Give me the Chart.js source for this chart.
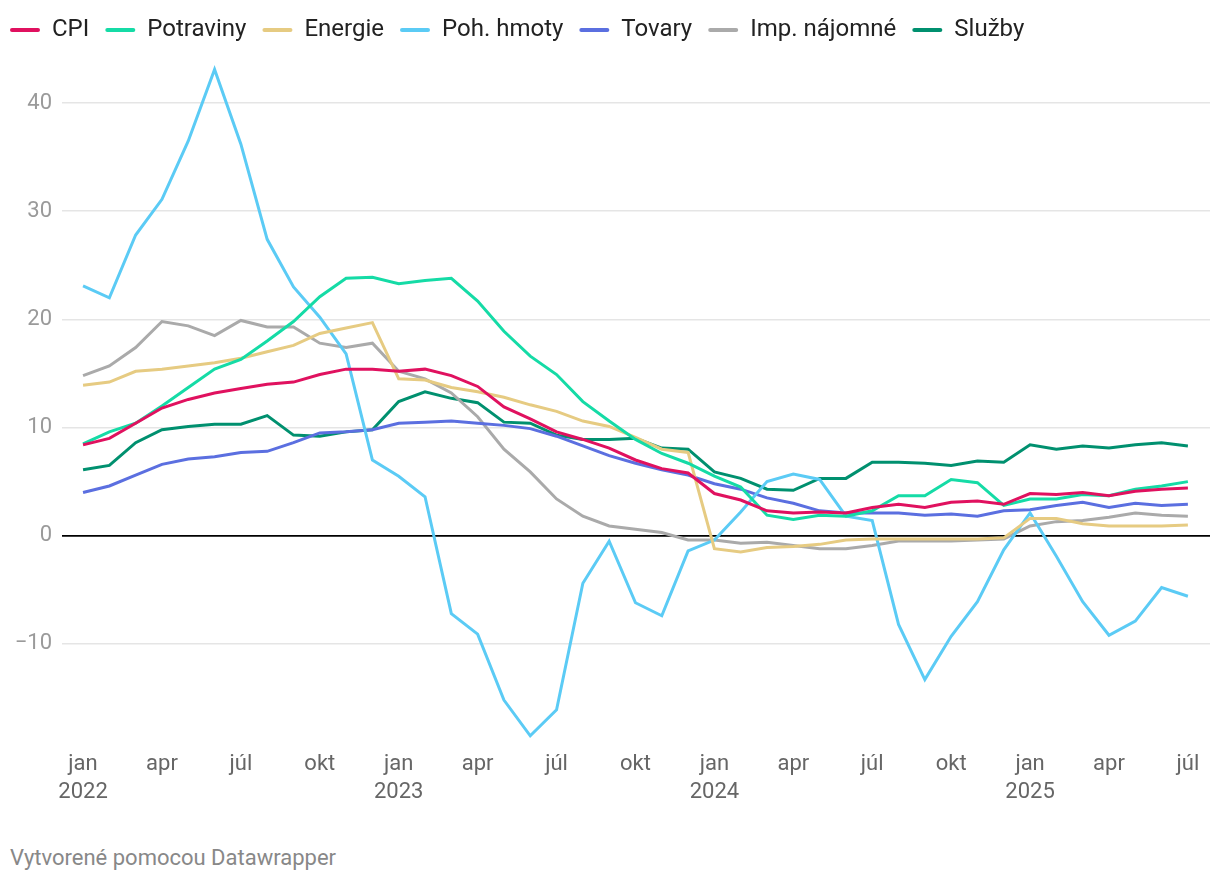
<!DOCTYPE html>
<html>
<head>
<meta charset="utf-8">
<script src="https://cdn.jsdelivr.net/npm/chart.js@4"></script>
<style>
    html, body { margin: 0; padding: 0; background: #fff; }
    #wrap { position: relative; width: 1220px; height: 882px; overflow: hidden; }
    #box { position: absolute; left: -6px; top: 0; width: 1226px; height: 815px; }
    #credit { position: absolute; left: 10px; top: 845px; font: 22px Roboto, sans-serif; color: #888; }
</style>
</head>
<body>
<div id="wrap">
    <div id="box"><canvas id="cpi-chart"></canvas></div>
    <div id="credit">Vytvorené pomocou Datawrapper</div>
</div>
<script>
const months = [
    '2022-01', '2022-02', '2022-03', '2022-04', '2022-05', '2022-06', '2022-07', '2022-08', '2022-09', '2022-10', '2022-11', '2022-12',
    '2023-01', '2023-02', '2023-03', '2023-04', '2023-05', '2023-06', '2023-07', '2023-08', '2023-09', '2023-10', '2023-11', '2023-12',
    '2024-01', '2024-02', '2024-03', '2024-04', '2024-05', '2024-06', '2024-07', '2024-08', '2024-09', '2024-10', '2024-11', '2024-12',
    '2025-01', '2025-02', '2025-03', '2025-04', '2025-05', '2025-06', '2025-07'
];

const cpi = [8.4, 9.0, 10.4, 11.8, 12.6, 13.2, 13.6, 14.0, 14.2, 14.9, 15.4, 15.4, 15.2, 15.4, 14.8, 13.8, 11.9, 10.8, 9.6, 8.9, 8.1, 7.0, 6.2, 5.8,
    3.9, 3.3, 2.3, 2.1, 2.2, 2.1, 2.6, 2.9, 2.6, 3.1, 3.2, 2.9, 3.9, 3.8, 4.0, 3.7, 4.1, 4.3, 4.4];
const potraviny = [8.5, 9.6, 10.4, 12.0, 13.7, 15.4, 16.3, 18.0, 19.8, 22.1, 23.8, 23.9, 23.3, 23.6, 23.8, 21.7, 18.9, 16.6, 14.9, 12.4, 10.6, 8.9, 7.6, 6.7,
    5.5, 4.5, 1.9, 1.5, 1.9, 1.8, 2.3, 3.7, 3.7, 5.2, 4.9, 2.8, 3.4, 3.4, 3.8, 3.7, 4.3, 4.6, 5.0];
const energie = [13.9, 14.2, 15.2, 15.4, 15.7, 16.0, 16.4, 17.0, 17.6, 18.7, 19.2, 19.7, 14.5, 14.4, 13.7, 13.3, 12.8, 12.1, 11.5, 10.6, 10.1, 9.1, 8.0, 7.7,
    -1.2, -1.5, -1.1, -1.0, -0.8, -0.4, -0.3, -0.3, -0.3, -0.3, -0.3, -0.2, 1.6, 1.6, 1.1, 0.9, 0.9, 0.9, 1.0];
const pohHmoty = [23.1, 22.0, 27.8, 31.1, 36.5, 43.1, 36.2, 27.4, 23.0, 20.2, 16.8, 7.0, 5.5, 3.6, -7.2, -9.1, -15.2, -18.5, -16.1, -4.4, -0.5, -6.2, -7.4, -1.4,
    -0.4, 2.2, 5.0, 5.7, 5.2, 1.8, 1.4, -8.2, -13.3, -9.3, -6.1, -1.3, 2.1, -1.9, -6.1, -9.2, -7.9, -4.8, -5.6];
const tovary = [4.0, 4.6, 5.6, 6.6, 7.1, 7.3, 7.7, 7.8, 8.6, 9.5, 9.6, 9.8, 10.4, 10.5, 10.6, 10.4, 10.2, 9.9, 9.2, 8.3, 7.4, 6.7, 6.1, 5.6,
    4.8, 4.3, 3.5, 3.0, 2.3, 2.1, 2.1, 2.1, 1.9, 2.0, 1.8, 2.3, 2.4, 2.8, 3.1, 2.6, 3.0, 2.8, 2.9];
const impNajomne = [14.8, 15.7, 17.4, 19.8, 19.4, 18.5, 19.9, 19.3, 19.3, 17.8, 17.4, 17.8, 15.2, 14.5, 13.2, 11.0, 8.0, 5.9, 3.4, 1.8, 0.9, 0.6, 0.3, -0.4,
    -0.4, -0.7, -0.6, -0.9, -1.2, -1.2, -0.9, -0.5, -0.5, -0.5, -0.4, -0.3, 0.9, 1.3, 1.4, 1.7, 2.1, 1.9, 1.8];
const sluzby = [6.1, 6.5, 8.6, 9.8, 10.1, 10.3, 10.3, 11.1, 9.3, 9.2, 9.6, 9.8, 12.4, 13.3, 12.7, 12.3, 10.5, 10.4, 9.3, 8.9, 8.9, 9.0, 8.1, 8.0,
    5.9, 5.3, 4.3, 4.2, 5.3, 5.3, 6.8, 6.8, 6.7, 6.5, 6.9, 6.8, 8.4, 8.0, 8.3, 8.1, 8.4, 8.6, 8.3];

const xTickIndex = [0, 3, 6, 9, 12, 15, 18, 21, 24, 27, 30, 33, 36, 39, 42];
const xTickLabels = [['jan', '2022'], 'apr', 'júl', 'okt', ['jan', '2023'], 'apr', 'júl', 'okt',
    ['jan', '2024'], 'apr', 'júl', 'okt', ['jan', '2025'], 'apr', 'júl'];
const yTicks = [-10, 0, 10, 20, 30, 40];

Chart.defaults.font.family = 'Roboto';

const makeSeries = function (label, values, color) {
    return {
        label: label,
        data: values.map((v, i) => ({x: i, y: v})),
        borderColor: color,
        backgroundColor: color,
        borderWidth: 3,
        pointRadius: 0,
        tension: 0,
        clip: false,
    };
};

const ctx = document.getElementById('cpi-chart');

new Chart(ctx, {
    type: 'line',
    data: {
        datasets: [
            makeSeries('CPI', cpi, '#e0115f'),
            makeSeries('Potraviny', potraviny, '#15dba6'),
            makeSeries('Energie', energie, '#e6cb82'),
            makeSeries('Poh. hmoty', pohHmoty, '#5bcbf5'),
            makeSeries('Tovary', tovary, '#5b6fe0'),
            makeSeries('Imp. nájomné', impNajomne, '#aaaaaa'),
            makeSeries('Služby', sluzby, '#00906f'),
        ]
    },
    options: {
        responsive: true,
        maintainAspectRatio: false,
        animation: false,
        layout: {
            padding: {top: 2, right: 10, bottom: 0, left: 0}
        },
        scales: {
            x: {
                type: 'linear',
                min: -0.8,
                max: 42.84,
                grid: {display: false, drawTicks: false},
                border: {display: false},
                afterBuildTicks: function (scale) {
                    scale.ticks = xTickIndex.map(v => ({value: v}));
                },
                afterFit: function (scale) {
                    scale.height = 70;
                },
                ticks: {
                    padding: 5,
                    color: '#666',
                    maxRotation: 0,
                    autoSkip: false,
                    font: {size: 22, lineHeight: 1.3},
                    callback: function (value) {
                        const k = xTickIndex.indexOf(value);
                        return k >= 0 ? xTickLabels[k] : '';
                    }
                }
            },
            y: {
                min: -19.35,
                max: 44.72,
                grid: {
                    drawTicks: false,
                    color: c => (c.tick && c.tick.value === 0) ? '#000' : '#e5e5e5',
                    lineWidth: c => (c.tick && c.tick.value === 0) ? 1.8 : 1.5,
                },
                border: {display: false},
                afterBuildTicks: function (scale) {
                    scale.ticks = yTicks.map(v => ({value: v}));
                },
                afterFit: function (scale) {
                    scale.width = 68;
                },
                ticks: {
                    padding: 10,
                    color: '#9a9a9a',
                    font: {size: 22},
                    callback: function (value) {
                        return String(value).replace('-', '\u2212');
                    }
                }
            }
        },
        plugins: {
            legend: {
                display: true,
                position: 'top',
                align: 'start',
                labels: {
                    boxWidth: 30,
                    boxHeight: 4,
                    padding: 16,
                    color: '#222',
                    font: {size: 24},
                    useBorderRadius: true,
                    borderRadius: 2,
                    generateLabels: function (chart) {
                        const items = Chart.defaults.plugins.legend.labels.generateLabels(chart);
                        items.forEach(item => {
                            item.lineWidth = 0;
                        });
                        return items;
                    }
                }
            },
            tooltip: {enabled: false},
            title: {display: false}
        }
    }
});
</script>
</body>
</html>
